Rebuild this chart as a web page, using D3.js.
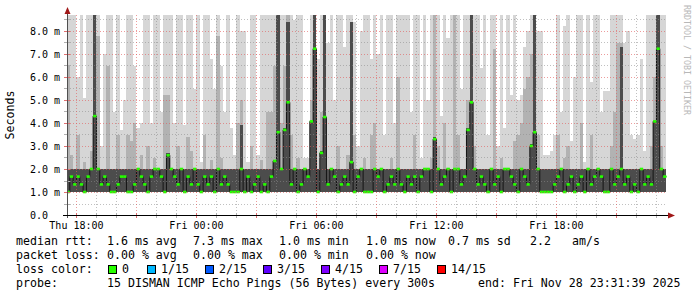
<!DOCTYPE html>
<html>
<head>
<meta charset="utf-8">
<script src="https://cdn.jsdelivr.net/npm/d3@7"></script>
<style>
body { margin: 0; background: #fff; }
svg text { font-family: "DejaVu Sans Mono", monospace; fill: #000; }
</style>
</head>
<body>
<svg id="vis" width="697" height="297"></svg>
<script>
// smokeping style rtt graph, 10 minute columns starting Thu 17:30
var stepMin = 10;

// median rtt per column (ms)
var medRtt = [
  1.0,1.67,1.33,1.67,1.33,1.0,1.67,2.0,4.3,2.0,
  1.33,1.67,1.33,1.0,1.0,1.33,1.67,1.67,1.0,1.0,
  1.33,2.0,1.67,1.33,1.0,1.67,2.0,2.0,1.67,1.0,
  2.6,2.0,1.67,1.33,2.0,1.0,1.67,1.33,2.0,1.33,
  1.0,1.67,1.33,1.67,1.0,
  2.0,1.33,1.67,1.33,1.0,1.0,1.0,2.0,1.0,1.67,
  1.0,1.33,1.67,1.0,1.33,1.0,1.67,2.35,3.6,2.0,
  3.7,4.9,1.33,2.0,1.0,1.33,2.0,1.67,4.07,7.23,
  1.0,2.7,4.26,1.33,2.0,1.67,1.0,1.33,1.67,1.33,
  2.3,1.0,1.67,2.0,1.0,
  1.0,1.0,2.0,1.67,2.0,1.0,1.33,1.67,1.33,2.0,
  1.33,1.0,1.67,1.33,1.67,1.0,1.67,2.0,2.0,1.0,
  3.3,2.0,1.33,1.67,2.0,1.0,2.0,2.0,1.33,1.67,
  3.7,4.9,2.0,1.33,1.67,1.33,1.0,2.0,1.33,1.67,
  1.0,2.0,2.0,1.67,1.33,
  1.0,2.0,1.67,1.33,3.0,3.6,2.0,1.0,1.0,1.0,
  1.0,1.33,1.67,2.0,1.0,1.33,1.67,1.0,1.33,1.67,
  1.0,2.0,1.33,1.67,2.0,1.67,1.0,1.0,2.0,1.33,
  1.67,2.0,1.33,1.67,1.0,1.33,1.0,2.0,1.33,1.67,
  1.33,4.07,7.23,2.0,1.67
];

// highest ping per column (outer smoke)
var topRtt = [
  8.7,8.7,8.7,6.0,8.7,5.1,8.7,8.7,8.7,8.7,
  3.0,7.0,8.7,8.7,4.5,8.7,3.7,5.0,8.7,8.7,
  6.5,3.8,4.0,8.7,8.7,4.0,8.7,8.7,4.5,8.7,
  8.7,8.7,4.0,8.7,8.7,3.9,8.7,8.7,5.5,8.7,
  2.3,8.7,8.7,6.8,5.5,
  8.7,6.5,4.5,8.7,3.8,2.6,8.7,8.0,8.0,2.3,
  8.7,8.7,2.6,8.7,8.7,8.7,8.7,8.7,8.7,8.7,
  8.7,8.7,8.7,8.5,8.7,8.7,2.5,2.5,8.7,8.7,
  6.8,8.7,8.7,7.5,8.7,5.0,8.7,8.7,7.3,8.7,
  8.7,8.4,3.0,8.0,8.7,
  8.7,6.8,8.7,7.0,8.7,3.5,8.7,8.7,4.0,8.7,
  8.7,8.7,8.7,4.5,8.7,8.7,2.5,8.7,5.0,8.7,
  8.7,8.7,4.3,8.7,7.7,8.7,8.7,8.7,5.5,8.7,
  8.7,8.7,8.7,8.7,6.4,8.7,3.5,8.7,8.7,3.0,
  8.7,3.8,8.7,5.2,8.7,
  5.0,5.2,7.3,8.0,8.7,8.7,8.0,8.0,2.6,2.6,
  2.8,3.5,8.7,4.5,8.2,8.7,3.2,6.0,8.7,8.7,
  2.3,8.7,5.8,8.7,8.7,4.5,5.4,5.4,8.7,8.7,
  8.7,8.7,7.5,8.0,3.5,3.3,3.5,6.8,2.8,8.7,
  8.7,8.7,8.7,8.7,8.7
];

// second smoke layer top
var midRtt = [
  6.5,2.6,2.0,3.5,2.0,2.3,2.0,2.8,8.7,7.8,
  2.0,2.0,6.5,2.0,2.0,3.5,2.0,2.0,3.5,3.2,
  4.0,2.0,2.6,2.0,3.0,2.0,2.5,2.0,2.0,5.2,
  5.2,2.0,2.0,3.0,2.0,2.0,3.4,2.8,2.0,2.0,
  2.0,3.5,2.0,2.4,2.0,
  7.8,2.5,2.0,2.0,2.0,2.0,4.0,5.0,2.0,2.0,
  3.0,2.0,2.0,2.4,2.0,4.5,4.5,6.5,8.7,4.0,
  6.5,8.7,3.5,2.0,2.5,2.0,2.0,2.0,5.0,8.7,
  2.0,4.5,8.7,2.0,2.0,2.0,3.0,2.0,2.0,2.6,
  8.0,3.5,2.0,2.0,2.5,
  2.0,3.5,4.0,2.0,2.0,2.0,2.0,2.5,2.0,6.0,
  2.0,2.0,2.0,2.0,3.5,2.0,2.0,2.0,2.0,2.5,
  8.7,3.0,2.0,4.0,2.0,2.0,8.7,3.5,2.0,2.0,
  5.0,8.7,3.0,2.0,2.0,2.0,2.0,2.0,7.2,2.0,
  2.5,2.0,2.0,2.0,3.2,
  3.5,4.0,5.5,6.0,7.0,8.7,3.5,2.0,2.0,2.0,
  2.0,2.0,3.5,2.0,2.5,3.0,2.0,2.0,2.0,4.0,
  2.0,2.0,3.5,2.0,2.0,2.0,2.0,2.0,3.0,4.5,
  7.5,7.5,2.0,2.0,2.0,2.0,2.0,2.0,2.0,2.0,
  3.0,6.0,8.7,3.0,2.0
];

// top of the dense (dark) smoke
var hiRtt = [
  2,2,2,2,2,2,2,2,8.7,2,
  2,2,2,2,2,2,2,2,2,2,
  2,2,2,2,2,2,2,2,2,2,
  2.7,2,2,2,2,2,2,2,2,2,
  2,2,2,2,2,
  2,2,2,2,2,2,2,3.9,2,2,
  2,2,2,2,2,2,2,2.4,8.7,2,
  3.8,8.4,2,2,2,2,2,2,4.1,8.7,
  2,2.8,8.7,2,2,2,2,2,2,2,
  8.4,2,2,2,2,
  2,2,2,2,2,2,2,2,2,2,
  2,2,2,2,2,2,2,2,2,2,
  3.4,2,2,2,2,2,2,2,2,2,
  3.8,8.7,2,2,2,2,2,2,2,2,
  2,2,2,2,2,
  2,2,2,2,3.1,8.7,2,2,2,2,
  2,2,2,2,2,2,2,2,2,2,
  2,2,2,2,2,2,2,2,2,2,
  2,7.3,2,2,2,2,2,2,2,2,
  2,4.1,8.7,2,2
];

var minRtt = 1.0;

var yTickVals = [0, 1, 2, 3, 4, 5, 6, 7, 8];
var yTickText = ['0.0', '1.0 m', '2.0 m', '3.0 m', '4.0 m', '5.0 m', '6.0 m', '7.0 m', '8.0 m'];

var lossLabels = ['0', '1/15', '2/15', '3/15', '4/15', '7/15', '14/15'];
var lossColors = ['#26ff00', '#00b8ff', '#0059ff', '#5e00ff', '#7e00ff', '#dd00ff', '#ff0000'];
var lossBoxX = [108, 147, 205, 263, 321, 379, 437];

var rttRow = [
  {x: 16, s: 'median rtt:'}, {x: 107, s: '1.6 ms avg'}, {x: 193, s: '7.3 ms max'},
  {x: 279, s: '1.0 ms min'}, {x: 366, s: '1.0 ms now'}, {x: 448, s: '0.7 ms sd'},
  {x: 530, s: '2.2'}, {x: 572, s: 'am/s'}
];
var lossRow = [
  {x: 16, s: 'packet loss:'}, {x: 107, s: '0.00 % avg'}, {x: 193, s: '0.00 % max'},
  {x: 279, s: '0.00 % min'}, {x: 366, s: '0.00 % now'}
];
var probeRow = [
  {x: 16, s: 'probe:'}, {x: 107, s: '15 DISMAN ICMP Echo Pings (56 Bytes) every 300s'},
  {x: 478, s: 'end: Fri Nov 28 23:31:39 2025'}
];

var svg = d3.select('#vis');

var tStart = new Date(2025, 10, 27, 17, 31, 39);
var tEnd = new Date(2025, 10, 28, 23, 31, 39);
var t0 = new Date(2025, 10, 27, 17, 30, 0);

var x = d3.scaleTime().domain([tStart, tEnd]).range([67, 667]);
var y = d3.scaleLinear().domain([0, 200 / 23]).range([215, 15]);

var cols = medRtt.map(function (m, i) {
  var a = d3.timeMinute.offset(t0, stepMin * i);
  return {
    t: a, t1: d3.timeMinute.offset(a, stepMin), med: m,
    top: topRtt[i], mid: Math.min(midRtt[i], topRtt[i]), hi: hiRtt[i]
  };
});

svg.append('defs').append('clipPath').attr('id', 'plotclip')
  .append('rect').attr('x', 67).attr('y', 15).attr('width', 600).attr('height', 200);

var plot = svg.append('g').attr('clip-path', 'url(#plotclip)');

function band(cls, color, hiKey) {
  plot.selectAll('.' + cls)
    .data(cols)
    .enter()
    .append('rect')
    .attr('class', cls)
    .attr('shape-rendering', 'crispEdges')
    .attr('x', function (d) { return x(d.t); })
    .attr('width', function (d) { return x(d.t1) - x(d.t); })
    .attr('y', function (d) { return y(d[hiKey]); })
    .attr('height', function (d) { return y(minRtt) - y(d[hiKey]); })
    .attr('fill', color);
}

band('smoke-top', '#d6d6d6', 'top');
band('smoke-mid', '#b2b2b2', 'mid');
band('smoke-hi', '#4c4c4c', 'hi');

// median as step line (dark) with loss coloured flats
var stepLine = d3.line()
  .x(function (d) { return x(d.t); })
  .y(function (d) { return y(d.med); })
  .curve(d3.curveStepAfter);

plot.append('path')
  .datum(cols.concat([{t: cols[cols.length - 1].t1, med: cols[cols.length - 1].med}]))
  .attr('d', stepLine)
  .attr('fill', 'none')
  .attr('stroke', '#151515')
  .attr('stroke-width', 1);

plot.selectAll('.median')
  .data(cols)
  .enter()
  .append('rect')
  .attr('class', 'median')
  .attr('x', function (d) { return x(d.t); })
  .attr('width', function (d) { return x(d.t1) - x(d.t); })
  .attr('y', function (d) { return y(d.med) - 1.3; })
  .attr('height', 2.6)
  .attr('fill', lossColors[0]);

// grid (drawn over the smoke like rrdtool)
var grid = svg.append('g');
var minorY = d3.range(1, 18, 2).map(function (k) { return k / 2; });
var hours = d3.timeHour.range(tStart, tEnd);

grid.selectAll('.gy-minor').data(minorY).enter().append('line')
  .attr('x1', 67).attr('x2', 667)
  .attr('y1', function (d) { return Math.round(y(d)) + 0.5; })
  .attr('y2', function (d) { return Math.round(y(d)) + 0.5; })
  .attr('stroke', 'rgba(140,140,140,0.55)').attr('stroke-dasharray', '1,2');

grid.selectAll('.gx').data(hours).enter().append('line')
  .attr('y1', 15).attr('y2', 215)
  .attr('x1', function (d) { return Math.round(x(d)) + 0.5; })
  .attr('x2', function (d) { return Math.round(x(d)) + 0.5; })
  .attr('stroke', function (d) { return d.getHours() % 3 === 0 ? 'rgba(225,90,90,0.6)' : 'rgba(140,140,140,0.55)'; })
  .attr('stroke-dasharray', '1,2');

grid.selectAll('.gy-major').data(yTickVals.slice(1)).enter().append('line')
  .attr('x1', 67).attr('x2', 667)
  .attr('y1', function (d) { return Math.round(y(d)) + 0.5; })
  .attr('y2', function (d) { return Math.round(y(d)) + 0.5; })
  .attr('stroke', 'rgba(225,90,90,0.6)').attr('stroke-dasharray', '1,2');

// axis tick marks
grid.selectAll('.tx').data(hours).enter().append('line')
  .attr('y1', 213).attr('y2', 218)
  .attr('x1', function (d) { return Math.round(x(d)) + 0.5; })
  .attr('x2', function (d) { return Math.round(x(d)) + 0.5; })
  .attr('stroke', function (d) { return d.getHours() % 3 === 0 ? '#e07070' : '#b0b0b0'; });

grid.selectAll('.ty').data(yTickVals.concat(minorY)).enter().append('line')
  .attr('x1', 64).attr('x2', 70)
  .attr('y1', function (d) { return Math.round(y(d)) + 0.5; })
  .attr('y2', function (d) { return Math.round(y(d)) + 0.5; })
  .attr('stroke', function (d) { return d % 1 === 0 ? '#e07070' : '#b0b0b0'; });

// axes lines + arrows
svg.append('line').attr('x1', 67.5).attr('x2', 67.5).attr('y1', 218).attr('y2', 12)
  .attr('stroke', '#505050');
svg.append('line').attr('x1', 63).attr('x2', 669).attr('y1', 215.5).attr('y2', 215.5)
  .attr('stroke', '#000');
svg.append('path').attr('d', 'M64.5,14 L70.5,14 L67.5,7 Z').attr('fill', '#a01818');
svg.append('path').attr('d', 'M668,212.5 L668,218.5 L675,215.5 Z').attr('fill', '#a01818');

// y labels
svg.selectAll('.ylab').data(yTickVals).enter().append('text')
  .attr('x', 30)
  .attr('y', function (d) { return y(d) + 4; })
  .style('font-size', '10px')
  .text(function (d, i) { return yTickText[i]; });

// x labels every 6 h
var labelFmt = d3.timeFormat('%a %H:%M');
svg.selectAll('.xlab').data(d3.timeHour.every(6).range(tStart, tEnd)).enter().append('text')
  .attr('x', function (d) { return x(d); })
  .attr('y', 229)
  .attr('text-anchor', 'middle')
  .style('font-size', '10px')
  .text(function (d) { return labelFmt(d); });

svg.append('text')
  .attr('transform', 'translate(14,115) rotate(-90)')
  .attr('text-anchor', 'middle')
  .style('font-size', '11.6px')
  .text('Seconds');

svg.append('text')
  .attr('transform', 'translate(684,5) rotate(90)')
  .style('font-size', '8.3px')
  .style('fill', '#b8b8b8')
  .text('RRDTOOL / TOBI OETIKER');

// legend
function row(items, yy) {
  svg.selectAll(null).data(items).enter().append('text')
    .attr('x', function (d) { return d.x; })
    .attr('y', yy)
    .style('font-size', '11.6px')
    .text(function (d) { return d.s; });
}
row(rttRow, 245);
row(lossRow, 259);
row([{x: 16, s: 'loss color:'}], 273);
row(probeRow, 287);

svg.selectAll('.lbox').data(lossColors).enter().append('rect')
  .attr('x', function (d, i) { return lossBoxX[i] + 0.5; })
  .attr('y', 265.5)
  .attr('width', 8).attr('height', 8)
  .attr('fill', function (d) { return d; })
  .attr('stroke', '#000');

svg.selectAll('.llab').data(lossLabels).enter().append('text')
  .attr('x', function (d, i) { return lossBoxX[i] + 14; })
  .attr('y', 273)
  .style('font-size', '11.6px')
  .text(function (d) { return d; });
</script>
</body>
</html>
